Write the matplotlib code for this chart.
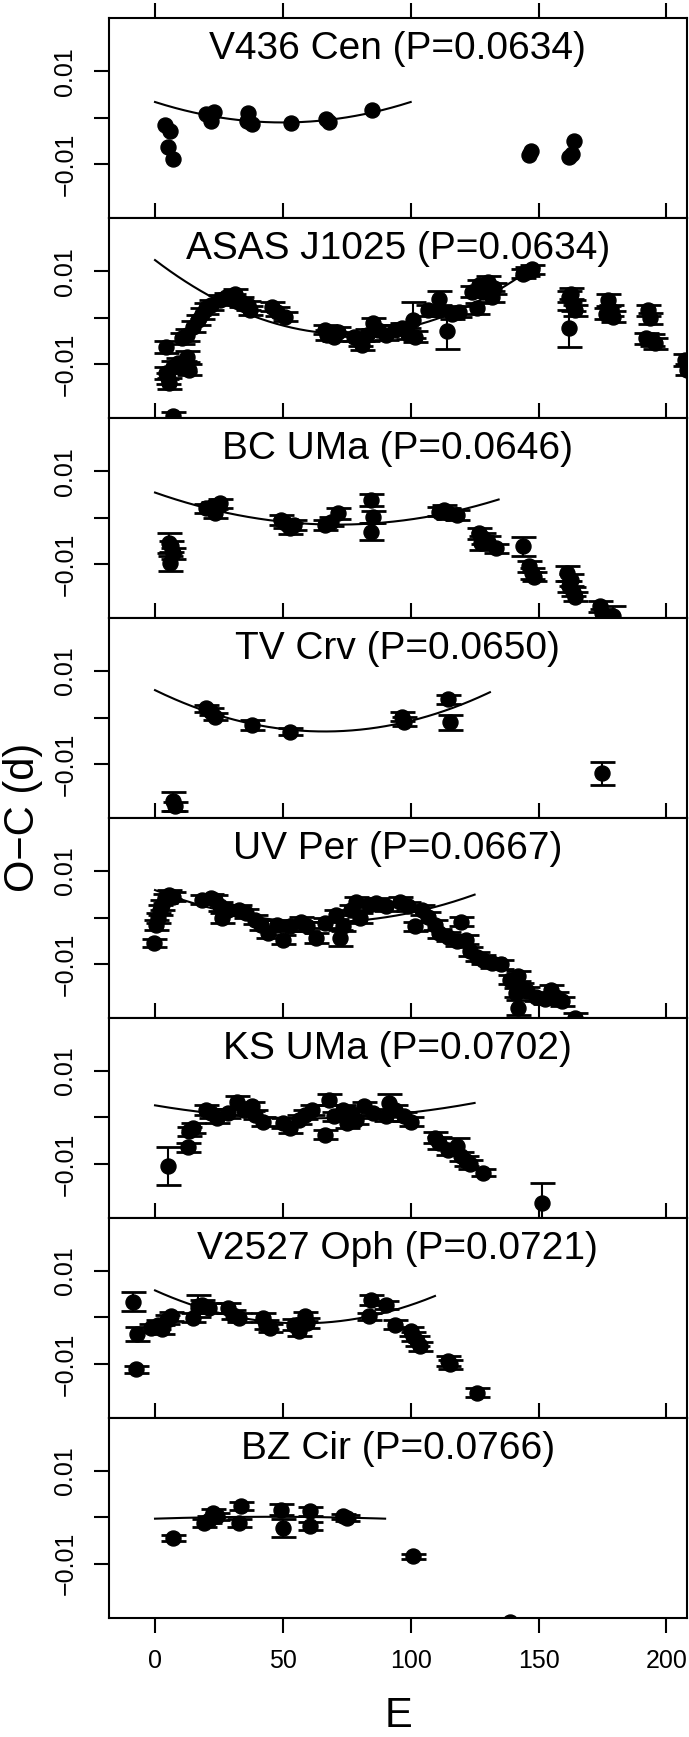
import numpy as np
import matplotlib
matplotlib.use('Agg')
import matplotlib.pyplot as plt

plt.rcParams['font.family'] = ['Liberation Sans', 'DejaVu Sans']

# (E, O-C, error) for each star; error 0 means no error bar
v436_cen = np.array([
    (3.8, -0.0015, 0.0), (6.0, -0.0029, 0.0), (5.0, -0.0063, 0.0), (7.2, -0.0088, 0.0),
    (20.0, 0.0009, 0.0), (23.0, 0.0012, 0.0), (22.0, -0.0006, 0.0), (36.4, 0.0010, 0.0),
    (36.0, -0.0007, 0.0), (38.0, -0.0013, 0.0), (53.0, -0.0011, 0.0), (67.0, -0.0002, 0.0),
    (68.0, -0.0009, 0.0), (85.0, 0.0016, 0.0), (146.4, -0.0081, 0.0), (147.0, -0.0072, 0.0),
    (162.0, -0.0085, 0.0), (163.0, -0.0078, 0.0), (164.0, -0.0049, 0.0),
])
asas_j1025 = np.array([
    (4.3, -0.0062, 0.0013), (5.2, -0.0130, 0.0012), (4.3, -0.0119, 0.0012), (5.5, -0.0141, 0.0012),
    (7.2, -0.0105, 0.0012), (9.0, -0.0098, 0.0012), (12.4, -0.0084, 0.0012), (11.5, -0.0105, 0.0012),
    (13.2, -0.0112, 0.0012), (10.7, -0.0044, 0.0012), (12.4, -0.0037, 0.0012), (15.0, -0.0019, 0.0011),
    (16.7, -0.0005, 0.0011), (18.4, 0.0009, 0.0011), (20.0, 0.0020, 0.0011), (21.8, 0.0027, 0.0011),
    (25.3, 0.0038, 0.0010), (27.8, 0.0044, 0.0010), (31.3, 0.0052, 0.0010), (30.4, 0.0041, 0.0010),
    (33.8, 0.0034, 0.0010), (37.3, 0.0016, 0.0010), (36.4, 0.0027, 0.0010), (45.9, 0.0024, 0.0010),
    (47.6, 0.0013, 0.0010), (51.0, 0.0002, 0.0010), (66.5, -0.0026, 0.0010), (67.4, -0.0037, 0.0010),
    (71.6, -0.0030, 0.0010), (70.0, -0.0041, 0.0010), (77.7, -0.0041, 0.0010), (80.2, -0.0051, 0.0010),
    (81.1, -0.0059, 0.0010), (82.8, -0.0037, 0.0012), (85.4, -0.0012, 0.0012), (87.1, -0.0026, 0.0010),
    (90.5, -0.0037, 0.0010), (94.0, -0.0026, 0.0010), (96.6, -0.0023, 0.0012), (99.0, -0.0034, 0.0012),
    (100.9, -0.0005, 0.0038), (101.7, -0.0041, 0.0012), (106.9, 0.0016, 0.0012), (111.2, 0.0041, 0.0016),
    (111.2, 0.0016, 0.0012), (114.3, -0.0028, 0.0040), (116.3, 0.0009, 0.0012), (118.9, 0.0013, 0.0012),
    (125.8, 0.0020, 0.0012), (124.0, 0.0056, 0.0012), (126.6, 0.0070, 0.0012), (128.4, 0.0056, 0.0012),
    (130.1, 0.0077, 0.0012), (131.8, 0.0045, 0.0012), (132.7, 0.0063, 0.0012), (143.8, 0.0095, 0.0010),
    (145.5, 0.0099, 0.0010), (147.3, 0.0104, 0.0010), (161.9, 0.0045, 0.0012), (163.6, 0.0027, 0.0012),
    (162.7, 0.0052, 0.0012), (161.9, -0.0023, 0.0040), (164.4, 0.0016, 0.0012), (177.3, 0.0038, 0.0012),
    (178.2, 0.0016, 0.0012), (179.0, 0.0002, 0.0012), (176.5, 0.0009, 0.0012), (192.8, 0.0016, 0.0012),
    (193.6, -0.0001, 0.0012), (192.0, -0.0044, 0.0012), (195.4, -0.0055, 0.0012), (194.5, -0.0048, 0.0012),
    (207.4, -0.0091, 0.0012), (208.0, -0.0112, 0.0012), (7.2, -0.0212, 0.0010),
])
bc_uma = np.array([
    (5.5, -0.0055, 0.0022), (6.4, -0.0062, 0.0012), (6.0, -0.0098, 0.0016), (7.2, -0.0077, 0.0012),
    (20.0, 0.0020, 0.0010), (22.7, 0.0024, 0.0010), (25.3, 0.0031, 0.0010), (23.5, 0.0009, 0.0010),
    (51.0, -0.0012, 0.0010), (52.7, -0.0023, 0.0012), (54.5, -0.0016, 0.0010), (49.3, -0.0005, 0.0010),
    (66.5, -0.0016, 0.0010), (69.0, -0.0009, 0.0010), (71.6, 0.0009, 0.0012), (84.5, 0.0038, 0.0013),
    (85.4, 0.0002, 0.0013), (84.5, -0.0030, 0.0018), (112.9, 0.0016, 0.0012), (114.6, 0.0009, 0.0012),
    (118.0, 0.0006, 0.0010), (111.2, 0.0013, 0.0010), (126.6, -0.0034, 0.0012), (128.4, -0.0044, 0.0012),
    (130.1, -0.0052, 0.0012), (133.5, -0.0066, 0.0010), (127.5, -0.0055, 0.0015), (143.8, -0.0062, 0.0020),
    (146.4, -0.0105, 0.0012), (147.3, -0.0120, 0.0012), (148.1, -0.0127, 0.0010), (161.0, -0.0120, 0.0016),
    (162.7, -0.0134, 0.0012), (161.9, -0.0148, 0.0012), (163.6, -0.0159, 0.0010), (164.4, -0.0170, 0.0010),
    (173.9, -0.0191, 0.0012), (174.8, -0.0206, 0.0010), (179.0, -0.0212, 0.0021),
])
tv_crv = np.array([
    (7.2, -0.0180, 0.0020), (8.0, -0.0191, 0.0010), (20.0, 0.0020, 0.0008), (21.8, 0.0013, 0.0008),
    (23.5, 0.0002, 0.0008), (38.1, -0.0016, 0.0010), (52.7, -0.0030, 0.0008), (96.6, 0.0002, 0.0010),
    (97.4, -0.0009, 0.0010), (114.6, 0.0039, 0.0010), (115.5, -0.0010, 0.0016), (174.7, -0.0120, 0.0025),
])
uv_per = np.array([
    (-0.5, -0.0055, 0.0008), (0.3, -0.0016, 0.0010), (1.2, -0.0001, 0.0010), (2.0, 0.0016, 0.0010),
    (2.9, 0.0027, 0.0010), (3.8, 0.0041, 0.0010), (5.5, 0.0049, 0.0010), (7.2, 0.0045, 0.0010),
    (18.4, 0.0038, 0.0010), (21.8, 0.0041, 0.0010), (23.5, 0.0038, 0.0010), (25.3, 0.0024, 0.0010),
    (26.1, -0.0001, 0.0010), (28.7, 0.0016, 0.0010), (33.0, 0.0016, 0.0010), (35.6, 0.0009, 0.0010),
    (39.0, -0.0005, 0.0010), (41.6, -0.0016, 0.0010), (44.2, -0.0034, 0.0010), (47.6, -0.0016, 0.0010),
    (50.2, -0.0048, 0.0010), (52.7, -0.0019, 0.0010), (57.0, -0.0009, 0.0010), (59.6, -0.0019, 0.0010),
    (63.0, -0.0044, 0.0010), (66.5, -0.0012, 0.0010), (70.8, 0.0006, 0.0010), (72.5, -0.0044, 0.0018),
    (73.4, -0.0019, 0.0010), (76.8, 0.0016, 0.0010), (78.5, 0.0034, 0.0010), (80.2, -0.0001, 0.0010),
    (83.7, 0.0027, 0.0010), (86.3, 0.0031, 0.0010), (90.5, 0.0024, 0.0010), (95.7, 0.0034, 0.0010),
    (99.1, 0.0024, 0.0010), (101.7, -0.0019, 0.0010), (104.3, 0.0016, 0.0010), (106.9, 0.0002, 0.0010),
    (109.5, -0.0016, 0.0010), (111.2, -0.0034, 0.0010), (114.6, -0.0041, 0.0010), (118.0, -0.0051, 0.0010),
    (119.8, -0.0009, 0.0010), (121.5, -0.0048, 0.0010), (123.2, -0.0073, 0.0010), (125.8, -0.0084, 0.0010),
    (128.4, -0.0091, 0.0010), (131.8, -0.0098, 0.0010), (135.2, -0.0101, 0.0010), (138.7, -0.0134, 0.0010),
    (141.2, -0.0162, 0.0010), (142.1, -0.0126, 0.0010), (143.0, -0.0151, 0.0010), (142.1, -0.0194, 0.0016),
    (145.5, -0.0159, 0.0010), (149.0, -0.0170, 0.0010), (152.4, -0.0176, 0.0010), (155.0, -0.0155, 0.0010),
    (156.7, -0.0170, 0.0010), (159.3, -0.0180, 0.0010), (164.4, -0.0216, 0.0010),
])
ks_uma = np.array([
    (5.2, -0.0105, 0.0041), (12.9, -0.0064, 0.0010), (13.2, -0.0030, 0.0010), (15.0, -0.0023, 0.0010),
    (20.0, 0.0016, 0.0010), (21.8, 0.0009, 0.0010), (24.4, -0.0001, 0.0010), (28.7, 0.0009, 0.0010),
    (32.1, 0.0034, 0.0012), (34.7, 0.0016, 0.0010), (38.1, 0.0024, 0.0010), (39.0, 0.0006, 0.0010),
    (42.4, -0.0009, 0.0010), (50.2, -0.0012, 0.0010), (52.7, -0.0023, 0.0010), (56.2, -0.0005, 0.0010),
    (58.8, 0.0006, 0.0010), (61.3, 0.0016, 0.0010), (66.5, -0.0037, 0.0010), (68.2, 0.0038, 0.0012),
    (69.9, 0.0002, 0.0010), (73.4, 0.0016, 0.0010), (75.1, -0.0012, 0.0010), (76.8, 0.0009, 0.0010),
    (78.5, -0.0005, 0.0010), (81.9, 0.0024, 0.0010), (85.4, 0.0009, 0.0010), (91.4, 0.0031, 0.0020),
    (90.5, 0.0002, 0.0010), (94.0, 0.0016, 0.0010), (97.4, 0.0002, 0.0010), (100.0, -0.0009, 0.0010),
    (109.5, -0.0044, 0.0012), (111.2, -0.0055, 0.0012), (114.6, -0.0069, 0.0012), (118.0, -0.0062, 0.0018),
    (119.8, -0.0084, 0.0010), (121.5, -0.0094, 0.0010), (123.2, -0.0101, 0.0010), (128.4, -0.0119, 0.0008),
    (151.5, -0.0184, 0.0043),
])
v2527_oph = np.array([
    (-8.8, 0.0034, 0.0020), (-7.0, -0.0035, 0.0015), (-7.4, -0.0112, 0.0008), (-1.4, -0.0023, 0.0008),
    (1.2, -0.0016, 0.0010), (2.9, -0.0026, 0.0010), (4.6, -0.0005, 0.0010), (6.4, 0.0002, 0.0010),
    (15.0, -0.0001, 0.0010), (16.7, 0.0024, 0.0023), (18.4, 0.0027, 0.0010), (21.0, 0.0020, 0.0010),
    (28.7, 0.0020, 0.0010), (30.4, 0.0006, 0.0010), (33.0, -0.0001, 0.0010), (42.4, -0.0001, 0.0010),
    (43.3, -0.0016, 0.0010), (45.0, -0.0023, 0.0008), (54.5, -0.0016, 0.0012), (56.2, -0.0030, 0.0010),
    (58.8, 0.0002, 0.0010), (59.6, -0.0012, 0.0010), (84.5, 0.0038, 0.0011), (83.7, 0.0002, 0.0008),
    (90.5, 0.0027, 0.0008), (94.0, -0.0016, 0.0010), (100.0, -0.0030, 0.0010), (100.9, -0.0041, 0.0010),
    (102.6, -0.0051, 0.0010), (103.5, -0.0062, 0.0010), (114.6, -0.0094, 0.0010), (115.5, -0.0101, 0.0010),
    (125.8, -0.0162, 0.0010),
])
bz_cir = np.array([
    (7.2, -0.0044, 0.0006), (19.2, -0.0012, 0.0008), (21.0, -0.0005, 0.0008), (22.7, 0.0009, 0.0008),
    (24.4, 0.0002, 0.0008), (33.8, 0.0024, 0.0008), (33.0, -0.0012, 0.0008), (49.3, 0.0016, 0.0012),
    (50.2, -0.0023, 0.0020), (60.5, 0.0013, 0.0010), (60.5, -0.0019, 0.0008), (73.4, 0.0002, 0.0006),
    (75.1, -0.0001, 0.0006), (100.9, -0.0084, 0.0006), (138.7, -0.0226, 0.0010),
])

titles = ['V436 Cen (P=0.0634)', 'ASAS J1025 (P=0.0634)', 'BC UMa (P=0.0646)', 'TV Crv (P=0.0650)',
          'UV Per (P=0.0667)', 'KS UMa (P=0.0702)', 'V2527 Oph (P=0.0721)', 'BZ Cir (P=0.0766)']
stars = [v436_cen, asas_j1025, bc_uma, tv_crv, uv_per, ks_uma, v2527_oph, bz_cir]

# quadratic fits to the early part of each O-C diagram
fit_coefs = [
    [1.76e-6, -1.76e-4, 0.0034],
    [2.77e-6, -4.20e-4, 0.0124],
    [1.357e-6, -1.935e-4, 0.0054],
    [2.02e-6, -2.68e-4, 0.0059],
    [1.638e-6, -2.126e-4, 0.0059],
    [7.8e-7, -9.34e-5, 0.0026],
    [2.16e-6, -2.475e-4, 0.0058],
    [-2.0e-7, 1.8e-5, -0.0003],
]
fit_end = [100, 148, 134.4, 131, 125, 125, 109.5, 90]

xticks = [0, 50, 100, 150, 200]

fig = plt.figure(figsize=(6.89, 17.37), dpi=100)
axes = fig.subplots(8, 1, sharex=True)
fig.subplots_adjust(left=0.1582, right=0.9968, top=0.98946, bottom=0.06868, hspace=0)

for i, ax in enumerate(axes):
    d = stars[i]
    has_err = d[:, 2] > 0
    if has_err.any():
        ax.errorbar(d[has_err, 0], d[has_err, 1], yerr=d[has_err, 2], fmt='none', ecolor='black',
                    capsize=9, capthick=2, elinewidth=1.5)
    ax.plot(d[:, 0], d[:, 1], 'o', color='black', ms=10.8)
    ee = np.linspace(0, fit_end[i], 200)
    ax.plot(ee, np.polyval(fit_coefs[i], ee), color='black', lw=1.5)
    ax.set_xlim(-18, 208)
    ax.set_ylim(-0.0216, 0.0214)
    ax.set_yticks([-0.01, 0, 0.01], ['\u22120.01', '', '0.01'])
    for lab in ax.get_yticklabels():
        lab.set_rotation(90)
        lab.set_va('center')
    ax.text(0.5, 1 - 41 / 200, titles[i], transform=ax.transAxes, ha='center',
            va='baseline', fontsize=28)
    last = (i == len(axes) - 1)
    ax.set_xticks(xticks)
    ax.tick_params(axis='x', top=True, bottom=last, labelbottom=last, direction='out',
                   length=10.8, width=1.5, labelsize=18, pad=12)
    ax.tick_params(axis='y', direction='out', length=10.8, width=1.5, labelsize=18, pad=12)
    for sp in ax.spines.values():
        sp.set_linewidth(1.5)

fig.text(23 / 689, 1 - 817.5 / 1737, 'O\u2212C (d)', rotation=90, ha='center', va='center', fontsize=30)
fig.text(398 / 689, 1 / 1737, 'E', ha='center', va='bottom', fontsize=30)

fig.savefig('out.png', dpi=100)
